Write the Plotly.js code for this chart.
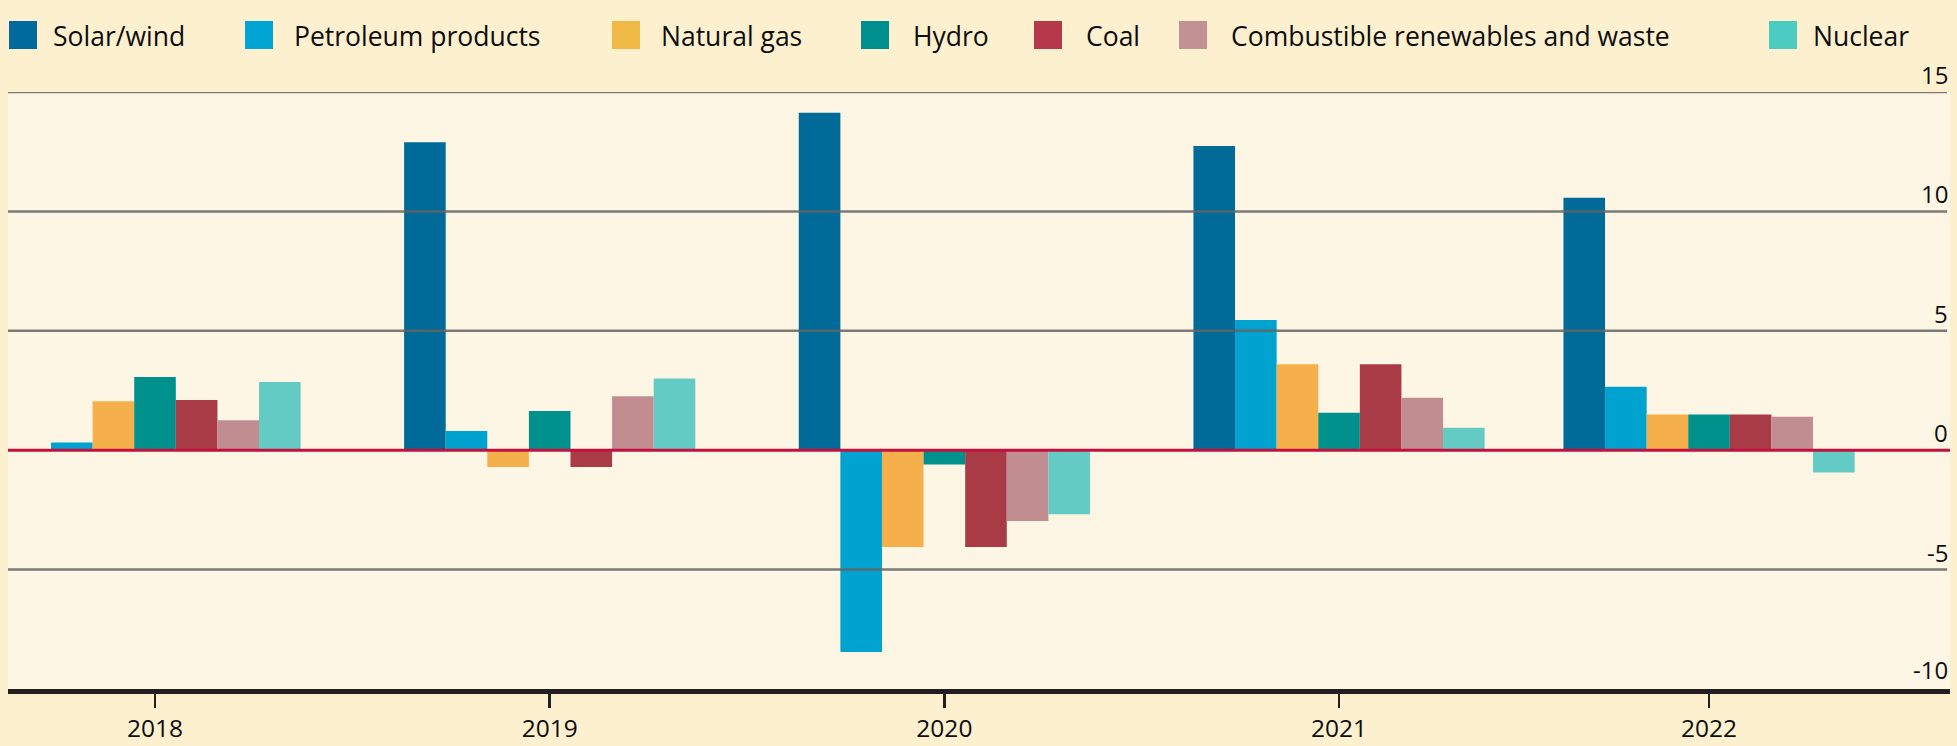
<!DOCTYPE html>
<html><head><meta charset="utf-8">
<script src="https://cdn.plot.ly/plotly-3.0.1.min.js"></script>
<style>html,body{margin:0;padding:0;background:#fdf0cf;}</style>
</head><body>
<div id="chart" style="width:1957px;height:746px;"></div>
<script>
// ---- data ----
const categories = ['2018', '2019', '2020', '2021', '2022'];
const groupPositions = [2018, 2019, 2020, 2021, 2021.9375];
const seriesNames = ['Solar/wind', 'Petroleum products', 'Natural gas', 'Hydro', 'Coal', 'Combustible renewables and waste', 'Nuclear'];
const solarWind = [null, 12.9, 14.13, 12.74, 10.57];
const petroleumProducts = [0.32, 0.8, -8.45, 5.45, 2.66];
const naturalGas = [2.05, -0.7, -4.05, 3.6, 1.5];
const hydro = [3.07, 1.64, -0.6, 1.57, 1.5];
const coal = [2.1, -0.7, -4.05, 3.6, 1.5];
const combustibleRenewables = [1.25, 2.26, -2.97, 2.2, 1.4];
const nuclear = [2.86, 3.0, -2.68, 0.94, -0.93];
const yTickValues = [-10, -5, 0, 5, 10, 15];
const yTickLabels = ['-10', '-5', '0', '5', '10', '15'];

// ---- styles ----
const barColors = ['#006a98', '#00a2cf', '#f6b04b', '#00918d', '#a93b47', '#c28d90', '#63cbc3'];
const legendColors = ['#006a9c', '#00a5d4', '#eeb944', '#008f8f', '#b5394a', '#c29194', '#4ccbc0'];
const legendBoxX = [9, 245, 612, 861, 1034, 1179, 1769];
const legendTextX = [51, 292, 659, 911, 1084, 1229, 1811];
const FONT = 'Open Sans, sans-serif';
const L = 8, R = 7, T = 92, B = 57, WIDTH = 1957, HEIGHT = 746;
const PW = WIDTH - L - R, PH = HEIGHT - T - B;
const px2x = px => (px - L) / PW;
const px2y = py => (T + PH - py) / PH;

const seriesValues = [solarWind, petroleumProducts, naturalGas, hydro, coal, combustibleRenewables, nuclear];
const traces = seriesNames.map((name, i) => ({
  type: 'bar', name: name, x: groupPositions, y: seriesValues[i],
  marker: {color: barColors[i], line: {width: 0}},
  showlegend: false, hoverinfo: 'skip'
}));

const shapes = [];
const annotations = [];
seriesNames.forEach((name, i) => {
  shapes.push({type: 'rect', xref: 'paper', yref: 'paper',
    x0: px2x(legendBoxX[i]), x1: px2x(legendBoxX[i] + 28),
    y0: px2y(49), y1: px2y(21), fillcolor: legendColors[i], line: {width: 0}});
  annotations.push({xref: 'paper', yref: 'paper', x: px2x(legendTextX[i]), y: px2y(35.5),
    xanchor: 'left', yanchor: 'middle', showarrow: false, text: name,
    font: {family: FONT, size: 26.5, color: '#0d0d0d'}});
});
yTickValues.forEach((v, i) => {
  annotations.push({xref: 'paper', yref: 'y', x: 1, y: v, xanchor: 'right', yanchor: 'bottom',
    showarrow: false, text: yTickLabels[i], yshift: v === -10 ? 1 : -1,
    font: {family: FONT, size: 24, color: '#0d0d0d'}});
  if (v === -10) return;
  if (v === 0) {
    shapes.push({type: 'line', xref: 'paper', yref: 'y', x0: 0, x1: 1, y0: 0, y1: 0,
      line: {color: '#c3103f', width: 3}, layer: 'above'});
  } else {
    shapes.push({type: 'line', xref: 'paper', yref: 'y', x0: 0, x1: 0.9985, y0: v, y1: v,
      line: {color: 'rgba(100,100,100,0.85)', width: 2.5}, layer: 'above'});
  }
});

const layout = {
  width: WIDTH, height: HEIGHT,
  margin: {l: L, r: R, t: T, b: B, pad: 0},
  paper_bgcolor: '#fdf0cf', plot_bgcolor: '#fef6e5',
  barmode: 'group', bargap: 0.213, bargroupgap: 0,
  showlegend: false,
  font: {family: FONT, color: '#0d0d0d'},
  xaxis: {
    type: 'linear', range: [2017.6275, 2022.548],
    tickvals: groupPositions, ticktext: categories,
    ticks: 'outside', ticklen: 14, tickwidth: 2.5, tickcolor: '#231f20',
    showline: true, linewidth: 5, linecolor: '#231f20',
    showgrid: false, zeroline: false,
    tickfont: {family: FONT, size: 24.5, color: '#0d0d0d'}
  },
  yaxis: {
    range: [-10, 15], showticklabels: false,
    ticks: '', showgrid: false, zeroline: false, showline: false
  },
  shapes: shapes,
  annotations: annotations
};

Plotly.newPlot('chart', traces, layout, {displayModeBar: false, staticPlot: true});
</script>
</body></html>
